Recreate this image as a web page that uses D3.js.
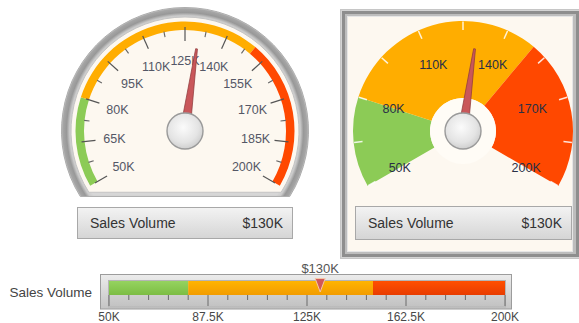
<!DOCTYPE html>
<html>
<head>
<meta charset="utf-8">
<script src="https://cdn.jsdelivr.net/npm/d3@7"></script>
<style>
  html, body { margin: 0; padding: 0; background: #ffffff; }
  svg { display: block; font-family: "Liberation Sans", Arial, sans-serif; }
</style>
</head>
<body>
<svg id="chart" width="579" height="323"></svg>
<script>
// ---- data ----
const metricName = "Sales Volume";
const metricValue = 130;                 // thousands of dollars
const valueLabel = "$130K";
const rangeMin = 50;
const rangeMax = 200;
const bandLimits = [50, 80, 150, 200];   // green | orange | red
const dialTicks = [50, 65, 80, 95, 110, 125, 140, 155, 170, 185, 200];
const dialTickLabels = ["50K", "65K", "80K", "95K", "110K", "125K", "140K", "155K", "170K", "185K", "200K"];
const dialMinorTicks = [57.5, 72.5, 87.5, 102.5, 117.5, 132.5, 147.5, 162.5, 177.5, 192.5];
const sectorLabelTicks = [50, 80, 110, 140, 170, 200];
const sectorTickLabels = ["50K", "80K", "110K", "140K", "170K", "200K"];
const linearTicks = [50, 87.5, 125, 162.5, 200];
const linearTickLabels = ["50K", "87.5K", "125K", "162.5K", "200K"];
const linearMinorTicks = [57.5, 65, 72.5, 80, 95, 102.5, 110, 117.5, 132.5, 140, 147.5, 155, 170, 177.5, 185, 192.5];

// ---- styles ----
const bandColors = ["#8ccb56", "#ffad00", "#ff4800"];
const faceColor = "#fdf8f0";
const needleFill = "#c9575a";
const needleStroke = "#8f3a3c";

const svg = d3.select("#chart");
const defs = svg.append("defs");
const rad = d => d * Math.PI / 180;

// angle scale shared by both dials: 240 degree sweep, top = 125K
const angle = d3.scaleLinear().domain([rangeMin, rangeMax]).range([rad(-120), rad(120)]);
const polar = (cx, cy, r, a) => [cx + r * Math.sin(a), cy - r * Math.cos(a)];

// gradients
const knobGrad = defs.append("radialGradient").attr("id", "knobGrad")
  .attr("cx", "45%").attr("cy", "40%").attr("r", "60%");
knobGrad.append("stop").attr("offset", "0%").attr("stop-color", "#fbfbfb");
knobGrad.append("stop").attr("offset", "70%").attr("stop-color", "#e4e4e4");
knobGrad.append("stop").attr("offset", "100%").attr("stop-color", "#cfcfcf");

const boxGrad = defs.append("linearGradient").attr("id", "boxGrad")
  .attr("x1", 0).attr("y1", 0).attr("x2", 0).attr("y2", 1);
boxGrad.append("stop").attr("offset", "0%").attr("stop-color", "#f3f3f3");
boxGrad.append("stop").attr("offset", "100%").attr("stop-color", "#d5d5d5");

function drawNeedle(g, cx, cy, len) {
  const a = angle(metricValue);
  const pts = [[-5, 0], [-0.9, -len], [0.9, -len], [5, 0]];
  g.append("path")
    .attr("d", d3.line()(pts) + "Z")
    .attr("transform", `translate(${cx},${cy}) rotate(${a * 180 / Math.PI})`)
    .attr("fill", needleFill)
    .attr("stroke", needleStroke)
    .attr("stroke-width", 0.7);
  g.append("circle")
    .attr("cx", cx).attr("cy", cy).attr("r", 18)
    .attr("fill", "url(#knobGrad)")
    .attr("stroke", "#9a9a9a")
    .attr("stroke-width", 1.4);
}

function drawValueBox(g, x0, x1, y0, y1) {
  g.append("rect")
    .attr("x", x0 + 0.5).attr("y", y0 + 0.5)
    .attr("width", x1 - x0).attr("height", y1 - y0)
    .attr("fill", "url(#boxGrad)")
    .attr("stroke", "#a8a8a8");
  g.append("text")
    .attr("x", x0 + 13).attr("y", (y0 + y1) / 2 + 5)
    .attr("font-size", 14).attr("fill", "#333")
    .text(metricName);
  g.append("text")
    .attr("x", x1 - 9).attr("y", (y0 + y1) / 2 + 5)
    .attr("font-size", 14).attr("fill", "#333")
    .attr("text-anchor", "end")
    .text(valueLabel);
}

// ================= Dial 1: bezel gauge =================
(function () {
  const cx = 185, cy = 131;
  const g = svg.append("g");

  const bezelGrad = defs.append("radialGradient").attr("id", "bezelGrad")
    .attr("gradientUnits", "userSpaceOnUse")
    .attr("cx", cx).attr("cy", cy).attr("r", 124);
  [[0.90, "#d6d6d6"], [0.93, "#cbcbcb"], [0.955, "#989898"], [0.985, "#a6a6a6"], [1, "#d4d4d4"]]
    .forEach(([o, c]) => bezelGrad.append("stop").attr("offset", o).attr("stop-color", c));

  function capShape(r, half) {
    const p = d3.path();
    const s = rad(-half) - Math.PI / 2, e = rad(half) - Math.PI / 2;
    p.moveTo(cx + r * Math.cos(s), cy + r * Math.sin(s));
    p.arc(cx, cy, r, s, e, false);
    p.closePath();
    return p.toString();
  }

  g.append("path").attr("d", capShape(123.5, 122))
    .attr("fill", "url(#bezelGrad)").attr("stroke", "#adadad").attr("stroke-width", 1);
  g.append("path").attr("d", capShape(114, 122.5))
    .attr("fill", faceColor).attr("stroke", "#c4c4c4").attr("stroke-width", 1);

  const arc = d3.arc().innerRadius(101).outerRadius(109.5);
  g.selectAll("path.band").data(d3.range(bandColors.length)).join("path")
    .attr("class", "band")
    .attr("transform", `translate(${cx},${cy})`)
    .attr("d", i => arc({ startAngle: angle(bandLimits[i]), endAngle: angle(bandLimits[i + 1]) }))
    .attr("fill", i => bandColors[i]);

  g.selectAll("line.major").data(dialTicks).join("line")
    .attr("class", "major")
    .attr("x1", d => polar(cx, cy, 104, angle(d))[0]).attr("y1", d => polar(cx, cy, 104, angle(d))[1])
    .attr("x2", d => polar(cx, cy, 90, angle(d))[0]).attr("y2", d => polar(cx, cy, 90, angle(d))[1])
    .attr("stroke", "#555").attr("stroke-width", 1.2);
  g.selectAll("line.minor").data(dialMinorTicks).join("line")
    .attr("class", "minor")
    .attr("x1", d => polar(cx, cy, 101.5, angle(d))[0]).attr("y1", d => polar(cx, cy, 101.5, angle(d))[1])
    .attr("x2", d => polar(cx, cy, 96, angle(d))[0]).attr("y2", d => polar(cx, cy, 96, angle(d))[1])
    .attr("stroke", "#666").attr("stroke-width", 1.1);

  g.selectAll("text.tick").data(dialTicks).join("text")
    .attr("class", "tick")
    .attr("x", d => polar(cx, cy, 71, angle(d))[0])
    .attr("y", d => polar(cx, cy, 71, angle(d))[1] + 4.5)
    .attr("text-anchor", "middle")
    .attr("font-size", 12.5).attr("fill", "#545766")
    .text((d, i) => dialTickLabels[i]);

  drawNeedle(g, cx, cy, 83);
  drawValueBox(g, 77, 292, 207, 238);
})();

// ================= Dial 2: sector gauge =================
(function () {
  const cx = 463, cy = 131;
  const g = svg.append("g");

  // framed panel
  g.append("rect").attr("x", 340.5).attr("y", 9.5).attr("width", 240).attr("height", 249)
    .attr("fill", "#d4d4d4").attr("stroke", "#c6c6c6");
  g.append("rect").attr("x", 342).attr("y", 11).attr("width", 237).attr("height", 246)
    .attr("fill", "#8e8e8e");
  g.append("rect").attr("x", 345).attr("y", 14).attr("width", 231).attr("height", 240)
    .attr("fill", "#bdbdbd");
  g.append("rect").attr("x", 347).attr("y", 16).attr("width", 226).attr("height", 236)
    .attr("fill", "#e6e6e6");
  g.append("rect").attr("x", 348).attr("y", 17).attr("width", 224).attr("height", 234)
    .attr("fill", faceColor);

  const arc = d3.arc().innerRadius(33).outerRadius(110);
  g.selectAll("path.band").data(d3.range(bandColors.length)).join("path")
    .attr("class", "band")
    .attr("transform", `translate(${cx},${cy})`)
    .attr("d", i => arc({ startAngle: angle(bandLimits[i]), endAngle: angle(bandLimits[i + 1]) }))
    .attr("fill", i => bandColors[i]);

  g.append("circle").attr("cx", cx).attr("cy", cy).attr("r", 33).attr("fill", "#fffcf6");

  g.selectAll("line.major").data(dialTicks).join("line")
    .attr("class", "major")
    .attr("x1", d => polar(cx, cy, 109.5, angle(d))[0]).attr("y1", d => polar(cx, cy, 109.5, angle(d))[1])
    .attr("x2", d => polar(cx, cy, 101, angle(d))[0]).attr("y2", d => polar(cx, cy, 101, angle(d))[1])
    .attr("stroke", "#ffffff").attr("stroke-opacity", 0.85).attr("stroke-width", 1.5);

  g.selectAll("text.tick").data(sectorLabelTicks).join("text")
    .attr("class", "tick")
    .attr("x", d => polar(cx, cy, 73, angle(d))[0])
    .attr("y", d => polar(cx, cy, 73, angle(d))[1] + 4.5)
    .attr("text-anchor", "middle")
    .attr("font-size", 12.5).attr("fill", "#2a3046")
    .text((d, i) => sectorTickLabels[i]);

  drawNeedle(g, cx, cy, 83);
  drawValueBox(g, 355, 571, 206, 239);
})();

// ================= Linear bullet gauge =================
(function () {
  const g = svg.append("g");
  const x = d3.scaleLinear().domain([rangeMin, rangeMax]).range([109, 505]);
  const barTop = 281, barBottom = 295;

  const frameGrad = defs.append("linearGradient").attr("id", "frameGrad")
    .attr("x1", 0).attr("y1", 0).attr("x2", 0).attr("y2", 1);
  frameGrad.append("stop").attr("offset", "0%").attr("stop-color", "#ececec");
  frameGrad.append("stop").attr("offset", "100%").attr("stop-color", "#c4c4c4");
  const scaleGrad = defs.append("linearGradient").attr("id", "scaleGrad")
    .attr("x1", 0).attr("y1", 0).attr("x2", 0).attr("y2", 1);
  scaleGrad.append("stop").attr("offset", "0%").attr("stop-color", "#dedede");
  scaleGrad.append("stop").attr("offset", "100%").attr("stop-color", "#c2c2c2");

  g.append("rect").attr("x", 100.5).attr("y", 274.5).attr("width", 411).attr("height", 34.5)
    .attr("fill", "url(#frameGrad)").attr("stroke", "#9c9c9c");
  g.append("rect").attr("x", 108.5).attr("y", 280.5).attr("width", 397).attr("height", 26.5)
    .attr("fill", "url(#scaleGrad)").attr("stroke", "#b5b5b5");

  const bandGrads = [["#95d360", "#7cbd44"], ["#ffb400", "#f29c00"], ["#ff5000", "#e83c00"]];
  bandGrads.forEach((c, i) => {
    const lg = defs.append("linearGradient").attr("id", "lin" + i)
      .attr("x1", 0).attr("y1", 0).attr("x2", 0).attr("y2", 1);
    lg.append("stop").attr("offset", "0%").attr("stop-color", c[0]);
    lg.append("stop").attr("offset", "100%").attr("stop-color", c[1]);
  });

  g.selectAll("rect.band").data(d3.range(bandColors.length)).join("rect")
    .attr("class", "band")
    .attr("x", i => x(bandLimits[i])).attr("y", barTop)
    .attr("width", i => x(bandLimits[i + 1]) - x(bandLimits[i]))
    .attr("height", barBottom - barTop)
    .attr("fill", i => "url(#lin" + i + ")");

  g.selectAll("line.minor").data(linearMinorTicks).join("line")
    .attr("class", "minor")
    .attr("x1", d => x(d)).attr("x2", d => x(d))
    .attr("y1", barBottom).attr("y2", barBottom + 5)
    .attr("stroke", "#6a6a6a").attr("stroke-width", 1);
  g.selectAll("line.major").data(linearTicks).join("line")
    .attr("class", "major")
    .attr("x1", d => x(d)).attr("x2", d => x(d))
    .attr("y1", barBottom).attr("y2", barBottom + 11)
    .attr("stroke", "#6a6a6a").attr("stroke-width", 1);

  g.selectAll("text.tick").data(linearTicks).join("text")
    .attr("class", "tick")
    .attr("x", d => x(d)).attr("y", 321)
    .attr("text-anchor", "middle")
    .attr("font-size", 12).attr("fill", "#484848")
    .text((d, i) => linearTickLabels[i]);

  // value marker
  const mx = x(metricValue);
  g.append("path")
    .attr("d", d3.line()([[mx - 5, 278.5], [mx + 5, 278.5], [mx, 292]]) + "Z")
    .attr("fill", "#d0585a").attr("stroke", "#f3c7a8").attr("stroke-width", 1);
  g.append("text")
    .attr("x", mx).attr("y", 273)
    .attr("text-anchor", "middle")
    .attr("font-size", 13).attr("fill", "#555")
    .text(valueLabel);

  g.append("text")
    .attr("x", 92).attr("y", 297)
    .attr("text-anchor", "end")
    .attr("font-size", 13.5).attr("fill", "#444")
    .text(metricName);
})();
</script>
</body>
</html>
